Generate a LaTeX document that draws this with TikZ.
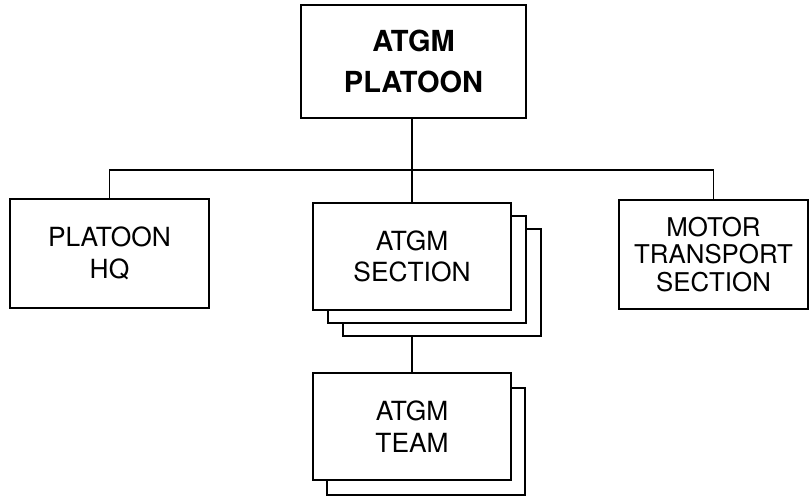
\documentclass[tikz,border=0pt]{standalone}
\usepackage{fontspec}
\setmainfont{TeX Gyre Heros}
\usetikzlibrary{backgrounds}
\tikzset{
    unitbox/.style={draw, line width=1.3pt, fill=white, align=center,
        inner sep=0pt, font=\fontsize{15}{18}\selectfont},
    link/.style={line width=1.1pt}
}
\begin{document}
\begin{tikzpicture}[x=0.02cm, y=-0.02cm]
    \useasboundingbox (0,0) rectangle (810,498);

    % Vertice
    \node[unitbox, minimum width=4.5cm, minimum height=2.26cm,
          font=\bfseries\fontsize{16.5}{23}\selectfont]
        (platoon) at (413.5,61.5) {ATGM\\PLATOON};

    % Livello delle sezioni
    \node[unitbox, minimum width=3.98cm, minimum height=2.18cm]
        (hq) at (109.5,253.5) {PLATOON\\HQ};
    \node[unitbox, minimum width=3.96cm, minimum height=2.14cm]
        (secC) at (442,282.5) {};
    \node[unitbox, minimum width=3.96cm, minimum height=2.14cm]
        (secB) at (427,269.5) {};
    \node[unitbox, minimum width=3.96cm, minimum height=2.14cm]
        (section) at (412,256.5) {ATGM\\SECTION};
    \node[unitbox, minimum width=3.78cm, minimum height=2.18cm,
          font=\fontsize{14.7}{15.6}\selectfont]
        (motor) at (713.5,254.5) {MOTOR\\TRANSPORT\\SECTION};

    % Squadre
    \node[unitbox, minimum width=3.96cm, minimum height=2.14cm]
        (teamB) at (426,441.5) {};
    \node[unitbox, minimum width=3.96cm, minimum height=2.14cm]
        (team) at (412,426.5) {ATGM\\TEAM};

    % Collegamenti
    \coordinate (bus) at (412,170);
    \begin{scope}[on background layer]
        \draw[link] (platoon.south -| bus) -- (bus);
        \draw[link] (hq.north) |- (bus) -| (motor.north);
        \draw[link] (bus) -- (section.north);
        \draw[link] (section.south) -- (team.north);
    \end{scope}
\end{tikzpicture}
\end{document}
